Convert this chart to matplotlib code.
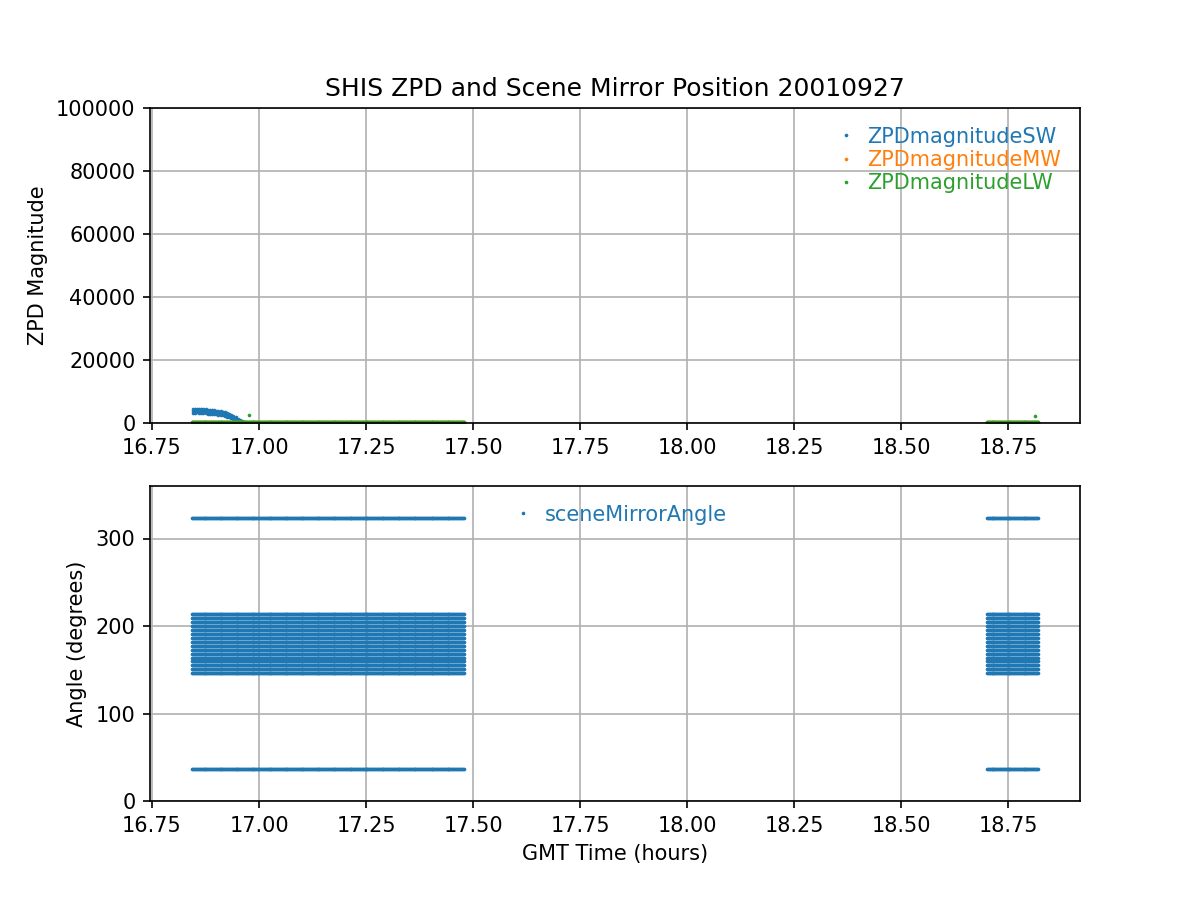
import numpy as np
import matplotlib
matplotlib.use('Agg')
import matplotlib.pyplot as plt

# time segments of the flight data (GMT hours) and sampling step of one mirror cycle
seg_start = [16.844, 18.700]
seg_end = [17.478, 18.820]
cycle_step = 0.0022

# scene mirror angles visited each cycle (degrees)
bb_angles = [37.0, 323.0]
scene_angles = [146.0, 150.5, 155.0, 159.5, 164.0, 168.5, 173.0, 177.5,
                182.0, 186.5, 191.0, 195.5, 200.0, 204.5, 209.0, 213.5]

# SW ZPD magnitude at start of flight (upper / middle / lower)
sw_t = [16.845, 16.850, 16.855, 16.860, 16.865, 16.870, 16.875, 16.880, 16.885,
        16.890, 16.895, 16.900, 16.905, 16.910, 16.915, 16.920, 16.925, 16.930,
        16.935, 16.940, 16.945, 16.950, 16.955, 16.960, 16.965, 16.970]
sw_hi = [4300, 4500, 4600, 4500, 4400, 4300, 4400, 4200, 4200, 4100, 4000, 3900,
         3800, 3700, 3600, 3400, 3200, 3000, 2600, 2200, 1800, 1400, 1000, 700, 400, 250]
sw_mid = [3700, 3900, 4000, 3900, 3800, 3700, 3700, 3600, 3600, 3500, 3400, 3300,
          3200, 3100, 3000, 2800, 2600, 2400, 2100, 1700, 1400, 1000, 700, 450, 250, 150]
sw_lo = [3100, 3300, 3400, 3300, 3200, 3100, 3100, 3000, 3000, 2900, 2800, 2700,
         2600, 2500, 2400, 2200, 2000, 1800, 1500, 1200, 900, 600, 400, 250, 150, 100]
sw_rest = [150, 150]   # SW level for the rest of each segment
mw_level = [250, 300]
lw_level = [450, 400]

# isolated LW spikes
lw_spike_t = [16.976, 18.812]
lw_spike_v = [2500, 2200]

times = [np.arange(a, b, cycle_step) for a, b in zip(seg_start, seg_end)]

fig, (ax1, ax2) = plt.subplots(2, 1, figsize=(8, 6), dpi=150)

# ---- top panel: ZPD magnitude
t_sw = np.concatenate([sw_t, sw_t, sw_t] + [t[t > 16.97] for t in times])
v_sw = np.concatenate([sw_hi, sw_mid, sw_lo] +
                      [np.full((t > 16.97).sum(), sw_rest[i]) for i, t in enumerate(times)])
t_all = np.concatenate(times)
v_mw = np.concatenate([np.full(len(t), mw_level[i]) for i, t in enumerate(times)])
v_lw = np.concatenate([np.full(len(t), lw_level[i]) for i, t in enumerate(times)])
t_lw = np.concatenate([t_all, lw_spike_t])
v_lw = np.concatenate([v_lw, lw_spike_v])

ms = 1.5
ax1.plot(t_sw, v_sw, '.', markersize=ms, label='ZPDmagnitudeSW')
ax1.plot(t_all, v_mw, '.', markersize=ms, label='ZPDmagnitudeMW')
ax1.plot(t_lw, v_lw, '.', markersize=ms, label='ZPDmagnitudeLW')
ax1.set_ylim(0, 100000)
ax1.set_ylabel('ZPD Magnitude')
ax1.set_title('SHIS ZPD and Scene Mirror Position 20010927')
ax1.grid(True)
leg = ax1.legend(loc='upper right', frameon=False, handlelength=0.5, labelspacing=0.15)
for txt, ln in zip(leg.get_texts(), ax1.get_lines()):
    txt.set_color(ln.get_color())

# ---- bottom panel: scene mirror angle
angles = bb_angles + scene_angles
t_ang = np.concatenate([t_all for a in angles])
v_ang = np.concatenate([np.full(len(t_all), a) for a in angles])
ax2.plot(t_ang, v_ang, '.', markersize=ms, label='sceneMirrorAngle')
ax2.set_ylim(0, 360)
ax2.set_yticks([0, 100, 200, 300])
ax2.set_ylabel('Angle (degrees)')
ax2.set_xlabel('GMT Time (hours)')
ax2.grid(True)
leg2 = ax2.legend(loc='upper center', bbox_to_anchor=(0.508, 1.0), frameon=False,
                  handlelength=0.5)
for txt in leg2.get_texts():
    txt.set_color('C0')

xl = ax2.get_xlim()
ax1.set_xlim(xl)

fig.savefig('out.png')
